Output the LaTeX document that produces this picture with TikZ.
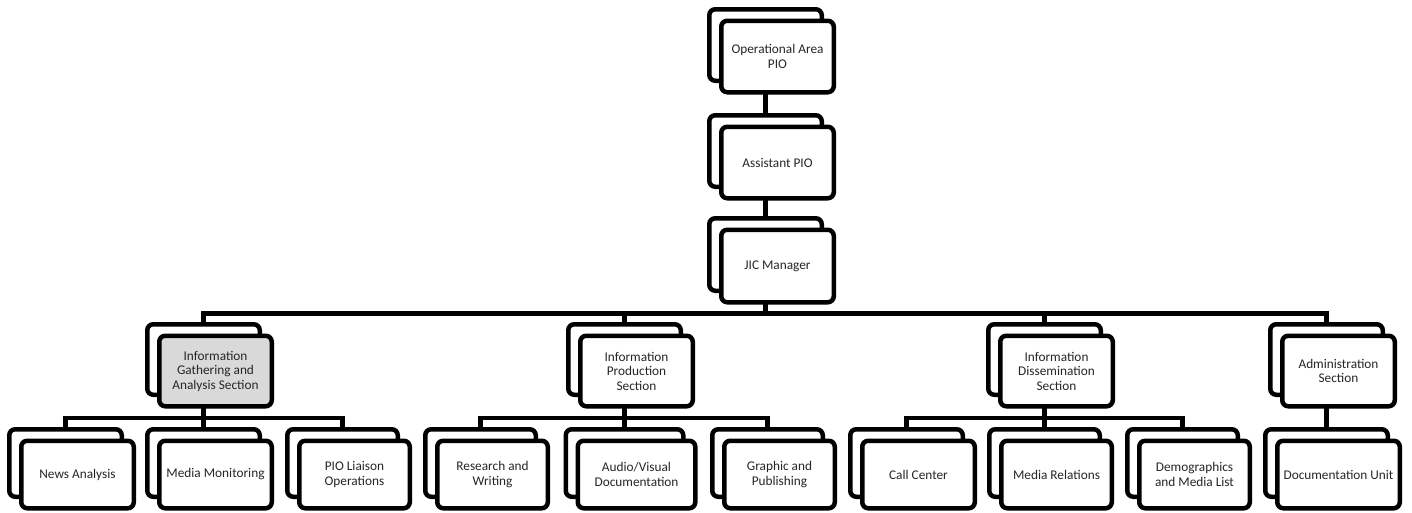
\documentclass[tikz,border=0pt]{standalone}
\usepackage{fontspec}
\setmainfont{Carlito}
\usetikzlibrary{calc,backgrounds}
% #1 name, #2 left, #3 top, #4 width, #5 height, #6 extra style, #7 text
\newcommand{\stk}[7]{%
  \node[box, minimum width=#4pt-4.5pt, minimum height=#5pt-4.5pt] (#1b) at ({#2+#4/2},{#3+#5/2}) {};
  \node[frontbox, minimum width=#4pt-4.5pt, minimum height=#5pt-4.5pt, #6] (#1) at ({#2+#4/2+12},{#3+#5/2+11.5}) {#7};
}
\begin{document}
\begin{tikzpicture}[x=1pt,y=-1pt,
  box/.style={draw=black, line width=4.5pt, rounded corners=6pt, fill=white, inner sep=0pt},
  frontbox/.style={box, align=center, text=black!85, font=\fontsize{13.3}{14.5}\selectfont},
  conn/.style={draw=black, line width=4.5pt}]
\path[use as bounding box] (0,0) rectangle (1412,512);
\begin{scope}[on background layer]
  \fill[white] (0,0) rectangle (1412,512);
\end{scope}
% top chain
\stk{opa}{707}{7}{117}{76}{}{Operational Area\\PIO}
\stk{apio}{707}{113}{117}{76}{}{Assistant PIO}
\stk{jic}{707}{216}{117}{77}{}{JIC Manager}
% sections
\stk{sa}{145}{322}{117}{75}{fill=black!15}{Information\\Gathering and\\Analysis Section}
\stk{sb}{566}{322}{117}{75}{}{Information\\Production\\Section}
\stk{sc}{986}{322}{117}{75}{}{Information\\Dissemination\\Section}
\stk{sd}{1268}{322}{117}{75}{}{Administration\\Section}
% leaves
\stk{news}{7}{427}{117}{72}{}{News Analysis}
\stk{mm}{145}{427}{117}{72}{}{Media Monitoring}
\stk{pio}{285}{427}{115}{72}{}{PIO Liaison\\Operations}
\stk{rw}{423}{427}{115}{72}{}{Research and\\Writing}
\stk{av}{563.5}{427}{122}{72}{}{Audio/Visual\\Documentation}
\stk{gp}{710}{427}{115}{72}{}{Graphic and\\Publishing}
\stk{cc}{848}{427}{117}{72}{}{Call Center}
\stk{mr}{987}{427}{115}{72}{}{Media Relations}
\stk{dm}{1125}{427}{115}{72}{}{Demographics\\and Media List}
\stk{du}{1263}{427}{127}{72}{}{Documentation Unit}
% connectors
\begin{scope}[on background layer]
  \draw[conn] (opab.center) -- (apiob.center);
  \draw[conn] (apiob.center) -- (jicb.center);
  \draw[conn] (jicb.center) |- ($(jic.south)!.5!(sab.north)$) -| (sab.center);
  \draw[conn] (jicb.center) |- ($(jic.south)!.5!(sbb.north)$) -| (sbb.center);
  \draw[conn] (jicb.center) |- ($(jic.south)!.5!(scb.north)$) -| (scb.center);
  \draw[conn] (jicb.center) |- ($(jic.south)!.5!(sdb.north)$) -| (sdb.center);
  \draw[conn] (sab.center) |- ($(sa.south)!.5!(newsb.north)$) -| (newsb.center);
  \draw[conn] (sab.center) |- ($(sa.south)!.5!(mmb.north)$) -| (mmb.center);
  \draw[conn] (sab.center) |- ($(sa.south)!.5!(piob.north)$) -| (piob.center);
  \draw[conn] (sbb.center) |- ($(sb.south)!.5!(rwb.north)$) -| (rwb.center);
  \draw[conn] (sbb.center) |- ($(sb.south)!.5!(avb.north)$) -| (avb.center);
  \draw[conn] (sbb.center) |- ($(sb.south)!.5!(gpb.north)$) -| (gpb.center);
  \draw[conn] (scb.center) |- ($(sc.south)!.5!(ccb.north)$) -| (ccb.center);
  \draw[conn] (scb.center) |- ($(sc.south)!.5!(mrb.north)$) -| (mrb.center);
  \draw[conn] (scb.center) |- ($(sc.south)!.5!(dmb.north)$) -| (dmb.center);
  \draw[conn] (sdb.center) -- (dub.center);
\end{scope}
\end{tikzpicture}
\end{document}
